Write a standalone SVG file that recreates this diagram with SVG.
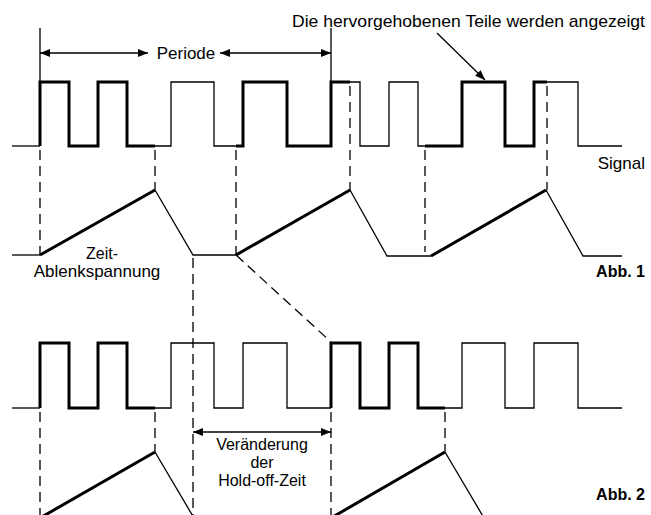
<svg xmlns="http://www.w3.org/2000/svg" width="651" height="515" viewBox="0 0 651 515">
<defs>
<style>
.thin{fill:none;stroke:#000;stroke-width:1.3}
.thick{fill:none;stroke:#000;stroke-width:3}
.dash{fill:none;stroke:#000;stroke-width:1.3;stroke-dasharray:10 6}
.t{font-family:"Liberation Sans",Arial,sans-serif;font-size:17px;fill:#000}
.s{font-family:"Liberation Sans",Arial,sans-serif;font-size:16px;fill:#000}
.b{font-family:"Liberation Sans",Arial,sans-serif;font-size:16px;font-weight:bold;fill:#000}
</style>
<marker id="ah" viewBox="0 0 10 8" refX="10" refY="4" markerWidth="10" markerHeight="8" markerUnits="userSpaceOnUse" orient="auto-start-reverse">
<path d="M0,0 L10,4 L0,8 Z" fill="#000"/>
</marker>
</defs>
<rect width="651" height="515" fill="#fff"/>
<g id="signal1">
<path class="thin" d="M12,146 H40"/>
<path class="thick" d="M40,146 V82 H69 V146 H98 V82 H127 V146 H155"/>
<path class="thin" d="M155,146 H171 V82 H214 V146 H236"/>
<path class="thick" d="M236,146 H243 V82 H287 V146 H331 V82 H350"/>
<path class="thin" d="M350,82 H360 V146 H389 V82 H418 V146 H425"/>
<path class="thick" d="M425,146 H462 V82 H505 V146 H534 V82 H547"/>
<path class="thin" d="M547,82 H578 V146 H622"/>
</g>
<g id="ramp1">
<path class="thin" d="M12,255 H40"/>
<path class="thick" d="M40,255 L155,190"/>
<path class="thin" d="M155,190 L193,255 H236"/>
<path class="thick" d="M236,255 L350,190"/>
<path class="thin" d="M350,190 L387,256 H431"/>
<path class="thick" d="M431,256 L546,190"/>
<path class="thin" d="M546,190 L583,256 H622"/>
</g>
<g id="signal2">
<path class="thin" d="M12,408 H40"/>
<path class="thick" d="M40,408 V343 H69 V408 H98 V343 H127 V408 H155"/>
<path class="thin" d="M155,408 H171 V343 H214 V408 H243 V343 H287 V408 H331"/>
<path class="thick" d="M331,408 V343 H360 V408 H389 V343 H418 V408 H445"/>
<path class="thin" d="M445,408 H462 V343 H505 V408 H534 V343 H578 V408 H622"/>
</g>
<g id="ramp2">
<path class="thick" d="M40,518 L155,452"/>
<path class="thin" d="M155,452 L194,518"/>
<path class="thick" d="M331,518 L445,452"/>
<path class="thin" d="M445,452 L484,518"/>
</g>
<g id="connectors">
<path class="thin" d="M40,28 V82 M331,28 V82"/>
<path class="dash" d="M40,150 V255 M155,150 V190 M236,150 V255 M350,86 V190 M425,150 V252 M547,86 V190 M193,258 V515 M236,255 L331,342 M40,412 V515 M155,412 V452 M331,412 V515 M445,412 V452"/>
<path class="thin" d="M40,53 H148" marker-start="url(#ah)" marker-end="url(#ah)"/>
<path class="thin" d="M220,53 H331" marker-start="url(#ah)" marker-end="url(#ah)"/>
<path class="thin" d="M193,432 H331" marker-start="url(#ah)" marker-end="url(#ah)"/>
<path class="thin" d="M437,33 L485,80" marker-end="url(#ah)"/>
</g>
<g id="labels">
<text class="t" x="186" y="59" text-anchor="middle">Periode</text>
<text class="t" x="645" y="27" text-anchor="end" textLength="353" lengthAdjust="spacingAndGlyphs">Die hervorgehobenen Teile werden angezeigt</text>
<text class="t" x="645" y="169" text-anchor="end">Signal</text>
<text class="s" x="102" y="259" text-anchor="middle">Zeit-</text>
<text class="t" x="97" y="277" text-anchor="middle">Ablenkspannung</text>
<text class="b" x="645" y="277" text-anchor="end">Abb. 1</text>
<text class="b" x="645" y="500" text-anchor="end">Abb. 2</text>
<text class="s" x="262" y="450" text-anchor="middle">Veränderung</text>
<text class="s" x="262" y="468" text-anchor="middle">der</text>
<text class="s" x="262" y="486" text-anchor="middle">Hold-off-Zeit</text>
</g>
</svg>
